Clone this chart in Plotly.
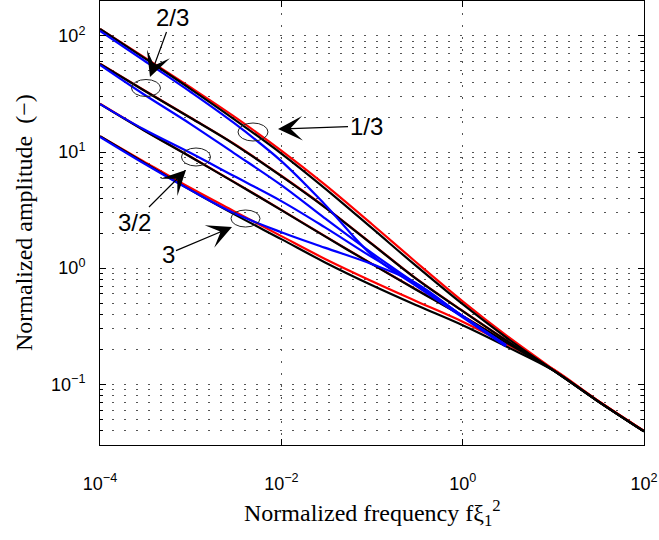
import plotly.graph_objects as go

# ---------------- data ----------------
freq = [1e-4, 3e-4, 1e-3, 3e-3, 1e-2, 3e-2, 0.1, 0.3, 1, 3, 10, 30, 100]
freq_blue = [1e-4, 3e-4, 1e-3, 3e-3, 1e-2, 3e-2, 0.1, 0.3, 1, 3]

# ratio 1/3
r13_red = [114.9, 66.3, 35.97, 20.27, 10.30, 5.27, 2.390, 1.142, 0.5185, 0.2651, 0.1346, 0.0735, 0.0396]
r13_black = [114.9, 65.3, 34.9, 19.25, 9.71, 4.90, 2.21, 1.061, 0.4894, 0.2542, 0.1318, 0.0728, 0.0393]
r13_blue = [110.4, 62.1, 32.9, 17.8, 8.36, 3.56, 1.295, 0.713, 0.378, 0.2127]
# ratio 2/3
r23_red = [57.7, 34.4, 19.76, 11.79, 6.25, 3.38, 1.62, 0.825, 0.429, 0.2409, 0.1326, 0.0732, 0.0395]
r23_black = [57.4, 34.2, 19.64, 11.72, 6.21, 3.36, 1.61, 0.820, 0.426, 0.2394, 0.1318, 0.0728, 0.0393]
r23_blue = [56.2, 31.6, 17.43, 9.80, 5.19, 2.70, 1.347, 0.743, 0.386, 0.217]
# ratio 3/2
r32_red = [26.05, 15.57, 9.11, 5.54, 3.18, 1.899, 1.089, 0.663, 0.388, 0.2316, 0.1326, 0.0732, 0.0395]
r32_black = [25.9, 15.48, 9.06, 5.51, 3.16, 1.888, 1.083, 0.659, 0.386, 0.2302, 0.1318, 0.0728, 0.0393]
r32_blue = [25.9, 15.79, 9.80, 6.21, 3.78, 2.257, 1.244, 0.743, 0.386, 0.217]
# ratio 3
r3_red = [13.7, 8.36, 4.90, 3.10, 1.888, 1.207, 0.772, 0.5246, 0.3458, 0.2234, 0.1346, 0.0735, 0.0396]
r3_black = [13.7, 8.20, 4.70, 2.92, 1.778, 1.127, 0.713, 0.4843, 0.3226, 0.2127, 0.1318, 0.0728, 0.0393]
r3_blue = [13.5, 8.04, 4.70, 2.98, 2.04, 1.502, 1.083, 0.750, 0.386, 0.217]

labels = ["2/3", "1/3", "3/2", "3"]

x_tickvals = [1e-4, 1e-2, 1, 100]
x_ticktext = ["10<sup>\u22124</sup>", "10<sup>\u22122</sup>", "10<sup>0</sup>", "10<sup>2</sup>"]
y_tickvals = [0.1, 1, 10, 100]
y_ticktext = ["10<sup>\u22121</sup>", "10<sup>0</sup>", "10<sup>1</sup>", "10<sup>2</sup>"]
y_minor = [m * 10.0 ** e for e in range(-2, 3) for m in range(2, 10)]

# ---------------- figure ----------------
W, H = 659, 540
L, R, T, B = 100, 15, 1, 95
PW, PH = W - L - R, H - T - B
LW = 2.2


def px(x):
    return (x - L) / PW


def py(y):
    return (H - B - y) / PH


fig = go.Figure()
for ys in [r13_red, r23_red, r32_red, r3_red]:
    fig.add_trace(go.Scatter(x=freq, y=ys, mode="lines",
                             line=dict(color="#ff0000", width=LW, shape="spline", smoothing=1.0), hoverinfo="skip"))
for ys in [r13_black, r23_black, r32_black, r3_black]:
    fig.add_trace(go.Scatter(x=freq, y=ys, mode="lines",
                             line=dict(color="#000000", width=LW, shape="spline", smoothing=1.0), hoverinfo="skip"))
for ys in [r13_blue, r23_blue, r32_blue, r3_blue]:
    fig.add_trace(go.Scatter(x=freq_blue, y=ys, mode="lines",
                             line=dict(color="#0000ff", width=LW, shape="spline", smoothing=1.0), hoverinfo="skip"))

# ellipses (pixel centre, width, height)
ellipses = [(146, 88, 29, 17), (253, 132, 30, 18), (196, 157, 29, 18), (245.5, 218.5, 29, 17)]
for cx, cy, w, h in ellipses:
    fig.add_shape(type="circle", xref="paper", yref="paper",
                  x0=px(cx - w / 2), x1=px(cx + w / 2), y0=py(cy + h / 2), y1=py(cy - h / 2),
                  line=dict(color="#222222", width=1))

# arrows: tip pixel, text offset
arrows = [(150, 77, 22, -60), (278, 129, 88, -3), (186, 170, -52, 52), (232, 227, -64, 27)]
for lab, (tx, ty, ax, ay) in zip(labels, arrows):
    fig.add_annotation(x=px(tx), y=py(ty), xref="paper", yref="paper", text=lab,
                       showarrow=True, ax=ax, ay=ay, arrowhead=3, arrowsize=3.4, arrowwidth=1.2,
                       arrowcolor="black", font=dict(family="Liberation Sans, Arial", size=24, color="black"))

axis_common = dict(type="log", ticks="inside", ticklen=6, tickcolor="black", showline=True,
                   linecolor="black", linewidth=1, mirror="ticks", showgrid=True,
                   gridcolor="#555555", griddash="2px,10px", gridwidth=1, zeroline=False,
                   tickfont=dict(family="Liberation Sans, Arial", size=18, color="black"))

fig.update_xaxes(range=[-4, 2], tickvals=x_tickvals, ticktext=x_ticktext, ticklabelstandoff=22, **axis_common)
fig.update_yaxes(range=[-1.5229, 2.30103], tickvals=y_tickvals, ticktext=y_ticktext, ticklabelstandoff=10,
                 minor=dict(tickvals=y_minor, ticks="inside", ticklen=3, tickcolor="black",
                            showgrid=True, gridcolor="#555555", griddash="2px,10px", gridwidth=1),
                 **axis_common)

fig.add_annotation(x=0.5, y=py(513), xref="paper", yref="paper", showarrow=False,
                   xanchor="center", yanchor="middle",
                   text="Normalized frequency f\u03be<sub>1</sub><sup>2</sup>",
                   font=dict(family="Liberation Serif, Times New Roman", size=24, color="black"))
fig.add_annotation(x=px(24), y=0.5, xref="paper", yref="paper", showarrow=False, textangle=-90,
                   xanchor="center", yanchor="middle",
                   text="Normalized amplitude  (\u2212)",
                   font=dict(family="Liberation Serif, Times New Roman", size=24, color="black"))

fig.update_layout(width=W, height=H, margin=dict(l=L, r=R, t=T, b=B), showlegend=False,
                  plot_bgcolor="white", paper_bgcolor="white")

fig.write_html("out.html")
